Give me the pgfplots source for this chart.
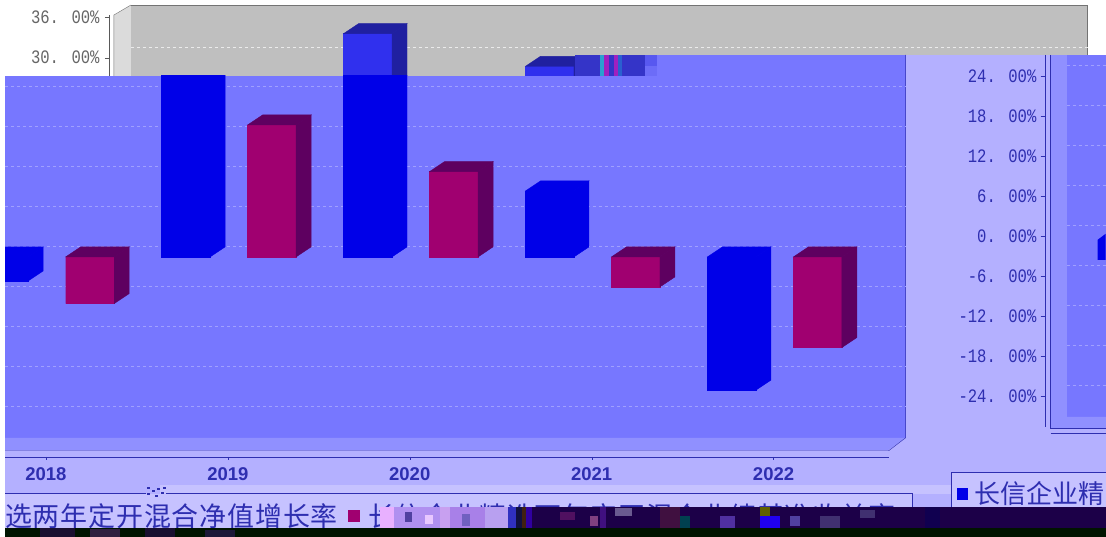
\documentclass[border=0pt]{standalone}
\usepackage{pgfplots}
\pgfplotsset{compat=1.18}
\usepackage{pgfplotstable}
\usepackage{fontspec}
\setmainfont{Liberation Sans}
\newfontfamily\cjk{Noto Sans CJK SC}
\newfontfamily\lbl{Liberation Mono}

\definecolor{wall}{HTML}{7777FF}
\definecolor{floorc}{HTML}{9090FF}
\definecolor{lav}{HTML}{B4B0FF}
\definecolor{lavb}{HTML}{C6C2FF}
\definecolor{ink}{HTML}{2E2EB0}
\definecolor{blu}{HTML}{0000E8}
\definecolor{blutop}{HTML}{3030EE}
\definecolor{bluside}{HTML}{2020A0}
\definecolor{mag}{HTML}{A00070}
\definecolor{magside}{HTML}{5E0060}
\definecolor{gridc}{HTML}{A0A0FF}

% values: what the lower and the upper part of the picture show
\pgfplotstableread{
year blue magenta
2018 -3.6 -7.0
2019 27.2 19.8
2020 33.5 12.8
2021 9.9 -4.5
2022 -20.0 -13.6
}\lowerdata
\pgfplotstableread{
year blue
2020 33.5
2021 28.6
}\upperdata

% px -> axis: x = 2018 + (px-46)/182, y = (257-py)*0.15
\pgfplotsset{
  base/.style={
    scale only axis, width=1106pt,
    xmin=2017.7473, xmax=2023.8242, ymin=-42,
    at={(0,0)}, anchor=south west,
    axis line style={draw=none}, tick style={draw=none},
    clip=true,
  },
  ticklab/.style={anchor=east,xscale=0.82,font=\lbl\fontsize{19}{19}\selectfont},
}

% side and top faces of a bar: year, bar shift (years), value, side colour, top colour
\newcommand{\faces}[5]{
  \pgfmathsetmacro{\xl}{#1+#2-0.1332}
  \pgfmathsetmacro{\xr}{#1+#2+0.1332}
  \pgfmathsetmacro{\xd}{\xr+0.0824}
  \pgfmathsetmacro{\xe}{\xl+0.0824}
  \pgfmathsetmacro{\hi}{max(#3,0)}
  \pgfmathsetmacro{\lo}{min(#3,0)}
  \addplot[fill=#4,draw=#4] coordinates {(\xr,\lo) (\xr,\hi) (\xd,\hi+1.5) (\xd,\lo+1.5)} --cycle;
  \addplot[fill=#5,draw=#5] coordinates {(\xl,\hi) (\xr,\hi) (\xd,\hi+1.5) (\xe,\hi+1.5)} --cycle;
}
% noise blocks: x0/y0/x1/y1/colour, in picture pixels
\newcommand{\blocks}[1]{
  \foreach \a/\b/\c/\d/\e in {#1} {
    \definecolor{nz}{HTML}{\e}
    \fill[nz] (\a,\b) rectangle (\c,\d);
  }
}

\begin{document}
\begin{tikzpicture}[x=1pt,y=1pt]

\fill[white] (0,0) rectangle (1106,537);

% upper part: grey chart as it was
\begin{scope}[yscale=-1,yshift=-537pt]
\fill[black!14] (114,15) -- (131,5) -- (131,80) -- (114,80) -- cycle;
\fill[black!25] (131,5) rectangle (1088,76);
\draw[black!55] (131,5) -- (1088,5) -- (1088,76);
\draw[black!55] (131,5) -- (114,15) -- (114,80);
\draw[black!65] (109,15) -- (109,80);
\draw[black!65] (105,17) -- (109,17) (105,58) -- (109,58);
\draw[black!8,dash pattern=on 3pt off 3pt] (131,47) -- (1088,47);
\end{scope}

\begin{axis}[base, height=537pt, ymax=38.55,
  ytick={30,36}, yticklabels={30. 00\%,36. 00\%},
  xtick=\empty,
  y tick label style={ticklab,xshift=125pt,text=black!60},
]
\addplot[ybar,bar width=48.5pt,bar shift=-42pt,fill=blutop,draw=blutop] table[x=year,y=blue] {\upperdata};
\faces{2020}{-0.2308}{33.5}{bluside}{bluside}
\faces{2021}{-0.2308}{28.6}{bluside}{bluside}
\end{axis}

% lower part: the same chart, tinted, with the left end wrapped round to the right
\begin{scope}[yscale=-1,yshift=-537pt]
\blocks{575/55/645/76/3434C8, 600/55/604/76/2AA0D0, 604/55/609/76/A020C0, 614/55/618/76/A020C0,
  618/55/622/76/2A60D0, 645/55/657/66/5858F0, 645/66/657/76/6C6CF8}
\fill[lav] (5,76) rectangle (1106,537);
\fill[lav] (657,55) rectangle (1106,76);
\fill[wall] (5,76) rectangle (906,438);
\fill[wall] (657,55) rectangle (906,76);
\fill[floorc] (5,438) -- (906,438) -- (889,450) -- (5,450) -- cycle;
\draw[ink] (906,55) -- (906,438) -- (889,451) -- (5,451);
\draw[ink] (5,457) -- (889,457);
\foreach \x in {46,228,410,592,774} \draw[ink] (\x,457) -- (\x,460);
\foreach \y in {86,126,...,407} \draw[gridc,dash pattern=on 3pt off 3pt] (5,\y) -- (906,\y);
% wrapped left end
\fill[floorc] (1051,55) rectangle (1106,428);
\fill[wall] (1067,55) rectangle (1106,417);
\fill[floorc] (1051,428) -- (1067,417) -- (1106,417) -- (1106,428) -- cycle;
\foreach \y in {65,105,...,407} \draw[gridc,dash pattern=on 3pt off 3pt] (1067,\y) -- (1106,\y);
\draw[ink] (1046,55) -- (1046,427);
\draw[ink] (1051,55) -- (1051,428) -- (1106,428);
\draw[ink] (1051,433) -- (1106,433);
\foreach \y in {76,116,...,396} \draw[ink] (1041,\y) -- (1046,\y);
\fill[blu] (1098,240) -- (1106,234) -- (1106,260) -- (1098,260) -- cycle;
\end{scope}

\begin{axis}[base, height=461pt, ymax=27.15,
  xtick={2018,...,2022},
  xticklabels={2018,2019,2020,2021,2022},
  x tick label style={anchor=center,yshift=63pt,text=ink,font=\bfseries\fontsize{18.5}{18.5}\selectfont},
  ytick={-24,-18,...,24},
  yticklabels={-24. 00\%,-18. 00\%,-12. 00\%,-6. 00\%,0. 00\%,6. 00\%,12. 00\%,18. 00\%,24. 00\%},
  y tick label style={ticklab,xshift=1268pt,yshift=21pt,text=ink},
]
\addplot[ybar,bar width=48.5pt,bar shift=-42pt,fill=blu,draw=blu] table[x=year,y=blue] {\lowerdata};
\addplot[ybar,bar width=48.5pt,bar shift=44pt,fill=mag,draw=mag] table[x=year,y=magenta] {\lowerdata};
\faces{2018}{-0.2308}{-3.6}{blu}{blu}
\faces{2019}{-0.2308}{27.2}{blu}{blu}
\faces{2020}{-0.2308}{33.5}{blu}{blu}
\faces{2021}{-0.2308}{9.9}{blu}{blu}
\faces{2022}{-0.2308}{-20.0}{blu}{blu}
\faces{2018}{0.242}{-7.0}{magside}{magside}
\faces{2019}{0.242}{19.8}{magside}{magside}
\faces{2020}{0.242}{12.8}{magside}{magside}
\faces{2021}{0.242}{-4.5}{magside}{magside}
\faces{2022}{0.242}{-13.6}{magside}{magside}
\end{axis}

% legends
\begin{scope}[yscale=-1,yshift=-537pt]
\fill[lavb] (160,485) rectangle (1106,494);
\fill[lavb] (5,494) rectangle (913,528);
\fill[lavb] (952,473) rectangle (1106,510);
\draw[ink,line width=1pt] (5,494) -- (146,494) (166,494) -- (913,494) -- (913,510);
\draw[ink,line width=1pt] (1106,473) -- (952,473) -- (952,510);
\fill[blu] (957,488) rectangle (968,500);
\fill[mag] (348,510) rectangle (360,522);
\end{scope}

\begin{scope}
\clip (5,0) rectangle (1106,537);
\node[anchor=west,inner sep=0,text=ink] at (5,537-516) {\cjk\fontsize{27}{27}\selectfont\addfontfeatures{LetterSpace=3}选两年定开混合净值增长率};
\node[anchor=west,inner sep=0,text=ink] at (368,537-516) {\cjk\fontsize{27}{27}\selectfont\addfontfeatures{LetterSpace=3}长信企业精选两年定开混合业绩基准收益率};
\node[anchor=west,inner sep=0,text=ink] at (975,537-494) {\cjk\fontsize{26}{26}\selectfont 长信企业精};
\end{scope}

% the damaged rows at the foot of the picture
\begin{scope}[yscale=-1,yshift=-537pt]
\blocks{380/507/394/528/E8B0FF, 394/507/440/528/B090F0, 440/507/450/528/C8A0F0, 450/507/485/528/A880E8,
  485/507/508/528/B8A0F0, 405/512/412/522/5040A0, 425/515/433/524/E8C8FF, 462/514/470/526/7060C0,
  508/507/1106/528/1C0048, 508/507/516/528/3030C0, 516/507/522/528/101040, 522/507/526/528/402010,
  526/507/532/528/3000A0, 560/512/575/520/501060, 600/507/606/528/401080, 590/516/598/526/804080,
  615/508/632/516/6A5A90, 660/507/680/528/401040, 680/516/690/528/004050, 720/516/735/528/5030A0,
  760/507/770/516/606000, 760/516/780/528/2000F0, 790/516/800/526/5040A0, 820/516/840/528/403070,
  860/510/875/518/403070, 925/507/940/528/100050}
\fill[black!92!green] (0,528) rectangle (1106,537);
\blocks{40/528/75/537/1A1030, 90/529/120/537/302040, 145/528/175/537/181030, 205/530/235/537/1C1838}
\fill[white] (0,0) rectangle (5,537);
\foreach \x/\y in {147/487,152/490,147/493,157/488,161/492,155/495,163/487}
  \fill[ink] (\x,\y) rectangle ++(3,2);
\end{scope}
\end{tikzpicture}
\end{document}
